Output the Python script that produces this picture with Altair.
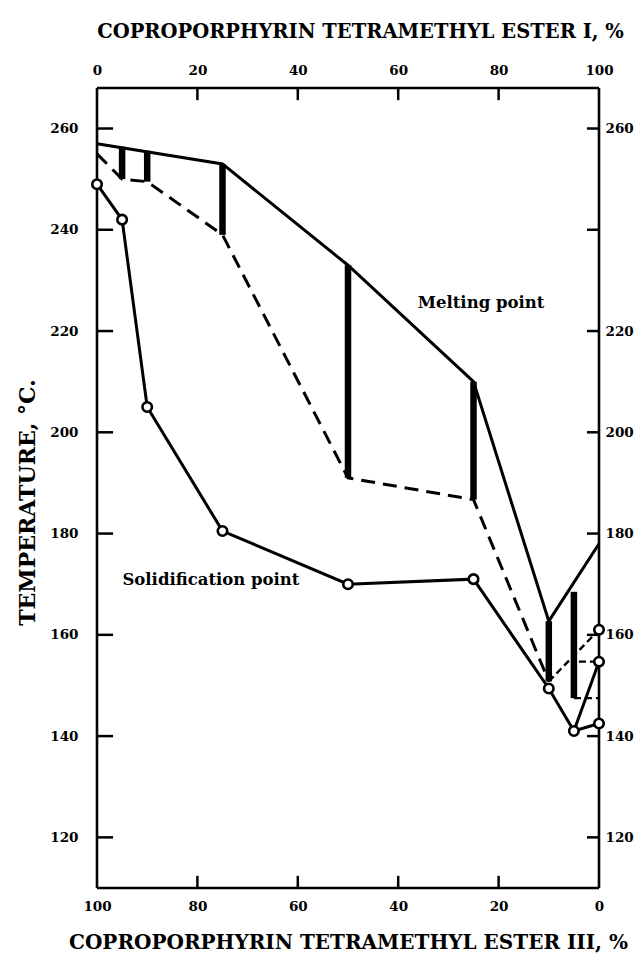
import altair as alt
import pandas as pd

# ---- data ----
# Melting point (upper solid line)
melt_x = [0, 25, 50, 75, 90, 100]
melt_t = [257, 253, 233, 210, 162.7, 178]

# Beginning of melting (dashed line)
begin_x = [0, 5, 10, 25, 50, 75, 90]
begin_t = [255, 250, 249.5, 239, 191, 186.7, 150.8]

# Melting ranges (thick vertical bars)
bar_x = [5, 10, 25, 50, 75, 90, 95]
bar_top = [256.4, 255.6, 253, 233, 210, 162.7, 168.5]
bar_bot = [250, 249.5, 239, 191, 186.7, 150.8, 147.5]

# Solidification point (solid line with open circles)
sol_x = [0, 5, 10, 25, 50, 75, 90, 95, 100]
sol_t = [249, 242, 205, 180.5, 170, 171, 149.4, 141, 142.5]

# Branch of the solidification curve near 100 % ester I
branch_x = [95, 100]
branch_t = [141, 154.7]

# Extra open circle at 100 %
extra_x = [100]
extra_t = [161]

# Dotted line from the dashed curve to the extra circle
dot_x = [90, 100]
dot_t = [150.8, 161]

# Short dashed segments near 100 %
short1_x = [96, 100]
short1_t = [154.7, 154.7]
short2_x = [95, 100]
short2_t = [147.5, 147.5]

# Axis ticks
x_ticks = [0, 20, 40, 60, 80, 100]
x_inner_ticks = [20, 40, 60, 80]
y_ticks = [120, 140, 160, 180, 200, 220, 240, 260]
y_right_labels = [120, 140, 160, 180, 200, 220, 260]

top_title = "COPROPORPHYRIN TETRAMETHYL ESTER I, %"
bottom_title = "COPROPORPHYRIN TETRAMETHYL ESTER III, %"
y_title = "TEMPERATURE, °C."
melt_label = "Melting point"
sol_label = "Solidification point"

XMIN, XMAX = 0, 100
YMIN, YMAX = 110, 268
FONT = "DejaVu Serif"

xs = alt.Scale(domain=[XMIN, XMAX], nice=False, zero=False)
ys = alt.Scale(domain=[YMIN, YMAX], nice=False, zero=False)

def df(x, y):
    return pd.DataFrame({"x": x, "t": y})

# ---- axes carrier layers ----
axis_common = dict(ticks=False, domain=False, grid=False, labelFont=FONT,
                   labelFontWeight="bold", labelFontSize=13.5, labelColor="black",
                   labelFlush=False, labelOverlap=False, titleFont=FONT,
                   titleFontWeight="bold", titleColor="black")

axes_a = alt.Chart(df(melt_x, melt_t)).mark_line(color="black", strokeWidth=3).encode(
    x=alt.X("x:Q", scale=xs,
            axis=alt.Axis(orient="bottom", values=x_ticks, labelExpr="100 - datum.value",
                          title=bottom_title, titleFontSize=20, labelPadding=11,
                          titlePadding=20, **axis_common)),
    y=alt.Y("t:Q", scale=ys,
            axis=alt.Axis(orient="left", values=y_ticks, title=y_title,
                          titleFontSize=22, labelPadding=19, titlePadding=10,
                          titleY=414, **axis_common)),
)

axes_b = alt.Chart(df(melt_x, melt_t)).mark_line(opacity=0).encode(
    x=alt.X("x:Q", scale=xs,
            axis=alt.Axis(orient="top", values=x_ticks, title=top_title,
                          titleFontSize=19.5, labelPadding=11, titlePadding=22,
                          titleX=263, **axis_common)),
    y=alt.Y("t:Q", scale=ys,
            axis=alt.Axis(orient="right", values=y_right_labels, title=None,
                          labelPadding=6, **axis_common)),
)

noax_x = alt.X("x:Q", scale=xs, axis=None)
noax_y = alt.Y("t:Q", scale=ys, axis=None)

# ---- frame ----
frame_v = alt.Chart(pd.DataFrame({"x": [XMIN, XMAX], "t0": [YMIN, YMIN],
                                  "t1": [YMAX, YMAX]})).mark_rule(
    color="black", strokeWidth=2.6).encode(
    x=noax_x, y=alt.Y("t0:Q", scale=ys, axis=None), y2="t1:Q")
frame_h = alt.Chart(pd.DataFrame({"t": [YMIN, YMAX], "x0": [XMIN, XMIN],
                                  "x1": [XMAX, XMAX]})).mark_rule(
    color="black", strokeWidth=2.6).encode(
    x=alt.X("x0:Q", scale=xs, axis=None), x2="x1:Q", y=noax_y)

# ---- tick marks (inward) ----
tick_left = alt.Chart(pd.DataFrame({"t": y_ticks, "x0": [XMIN] * len(y_ticks),
                                    "x1": [XMIN + 3.2] * len(y_ticks)})).mark_rule(
    color="black", strokeWidth=2.5).encode(
    x=alt.X("x0:Q", scale=xs, axis=None), x2="x1:Q", y=noax_y)
tick_right = alt.Chart(pd.DataFrame({"t": y_ticks, "x0": [XMAX - 2.4] * len(y_ticks),
                                     "x1": [XMAX] * len(y_ticks)})).mark_rule(
    color="black", strokeWidth=2.5).encode(
    x=alt.X("x0:Q", scale=xs, axis=None), x2="x1:Q", y=noax_y)
tick_top = alt.Chart(pd.DataFrame({"x": x_inner_ticks, "t0": [YMAX] * 4,
                                   "t1": [YMAX - 2.4] * 4})).mark_rule(
    color="black", strokeWidth=2.5).encode(
    x=noax_x, y=alt.Y("t0:Q", scale=ys, axis=None), y2="t1:Q")
tick_bottom = alt.Chart(pd.DataFrame({"x": x_inner_ticks, "t0": [YMIN] * 4,
                                      "t1": [YMIN + 2.4] * 4})).mark_rule(
    color="black", strokeWidth=2.5).encode(
    x=noax_x, y=alt.Y("t0:Q", scale=ys, axis=None), y2="t1:Q")

# ---- data layers ----
begin_line = alt.Chart(df(begin_x, begin_t)).mark_line(
    color="black", strokeWidth=3, strokeDash=[14, 8]).encode(x=noax_x, y=noax_y)

bars = alt.Chart(pd.DataFrame({"x": bar_x, "t": bar_top, "t2": bar_bot})).mark_rule(
    color="black", strokeWidth=6.5).encode(x=noax_x, y=noax_y, y2="t2:Q")

dot_line = alt.Chart(df(dot_x, dot_t)).mark_line(
    color="black", strokeWidth=2.4, strokeDash=[7, 4]).encode(x=noax_x, y=noax_y)
short1 = alt.Chart(df(short1_x, short1_t)).mark_line(
    color="black", strokeWidth=2.4, strokeDash=[7, 4]).encode(x=noax_x, y=noax_y)
short2 = alt.Chart(df(short2_x, short2_t)).mark_line(
    color="black", strokeWidth=2.4, strokeDash=[7, 4]).encode(x=noax_x, y=noax_y)

sol_line = alt.Chart(df(sol_x, sol_t)).mark_line(
    color="black", strokeWidth=3).encode(x=noax_x, y=noax_y)
branch_line = alt.Chart(df(branch_x, branch_t)).mark_line(
    color="black", strokeWidth=3).encode(x=noax_x, y=noax_y)

circ_x = sol_x + branch_x[1:] + extra_x
circ_t = sol_t + branch_t[1:] + extra_t
circles = alt.Chart(df(circ_x, circ_t)).mark_point(
    shape="circle", filled=False, fill="white", fillOpacity=1, color="black",
    strokeWidth=2.6, size=90, opacity=1).encode(x=noax_x, y=noax_y)

labels = alt.Chart(pd.DataFrame({"x": [76.5, 22.7], "t": [225.5, 170.8],
                                 "label": [melt_label, sol_label]})).mark_text(
    font=FONT, fontWeight="bold", fontSize=16.5, color="black", align="center",
    baseline="middle").encode(x=noax_x, y=noax_y, text="label:N")

chart = alt.layer(
    axes_a, axes_b, frame_v, frame_h, tick_left, tick_right, tick_top, tick_bottom,
    begin_line, bars, dot_line, short1, short2, sol_line, branch_line,
    circles, labels,
).resolve_axis(x="independent", y="independent").properties(
    width=502, height=800,
    autosize=alt.AutoSizeParams(type="none"),
    padding={"left": 89, "top": 80, "right": 36, "bottom": 67},
).configure_view(stroke=None).configure(background="white")

chart.save("out.html", embed_options={"renderer": "svg", "actions": False})
